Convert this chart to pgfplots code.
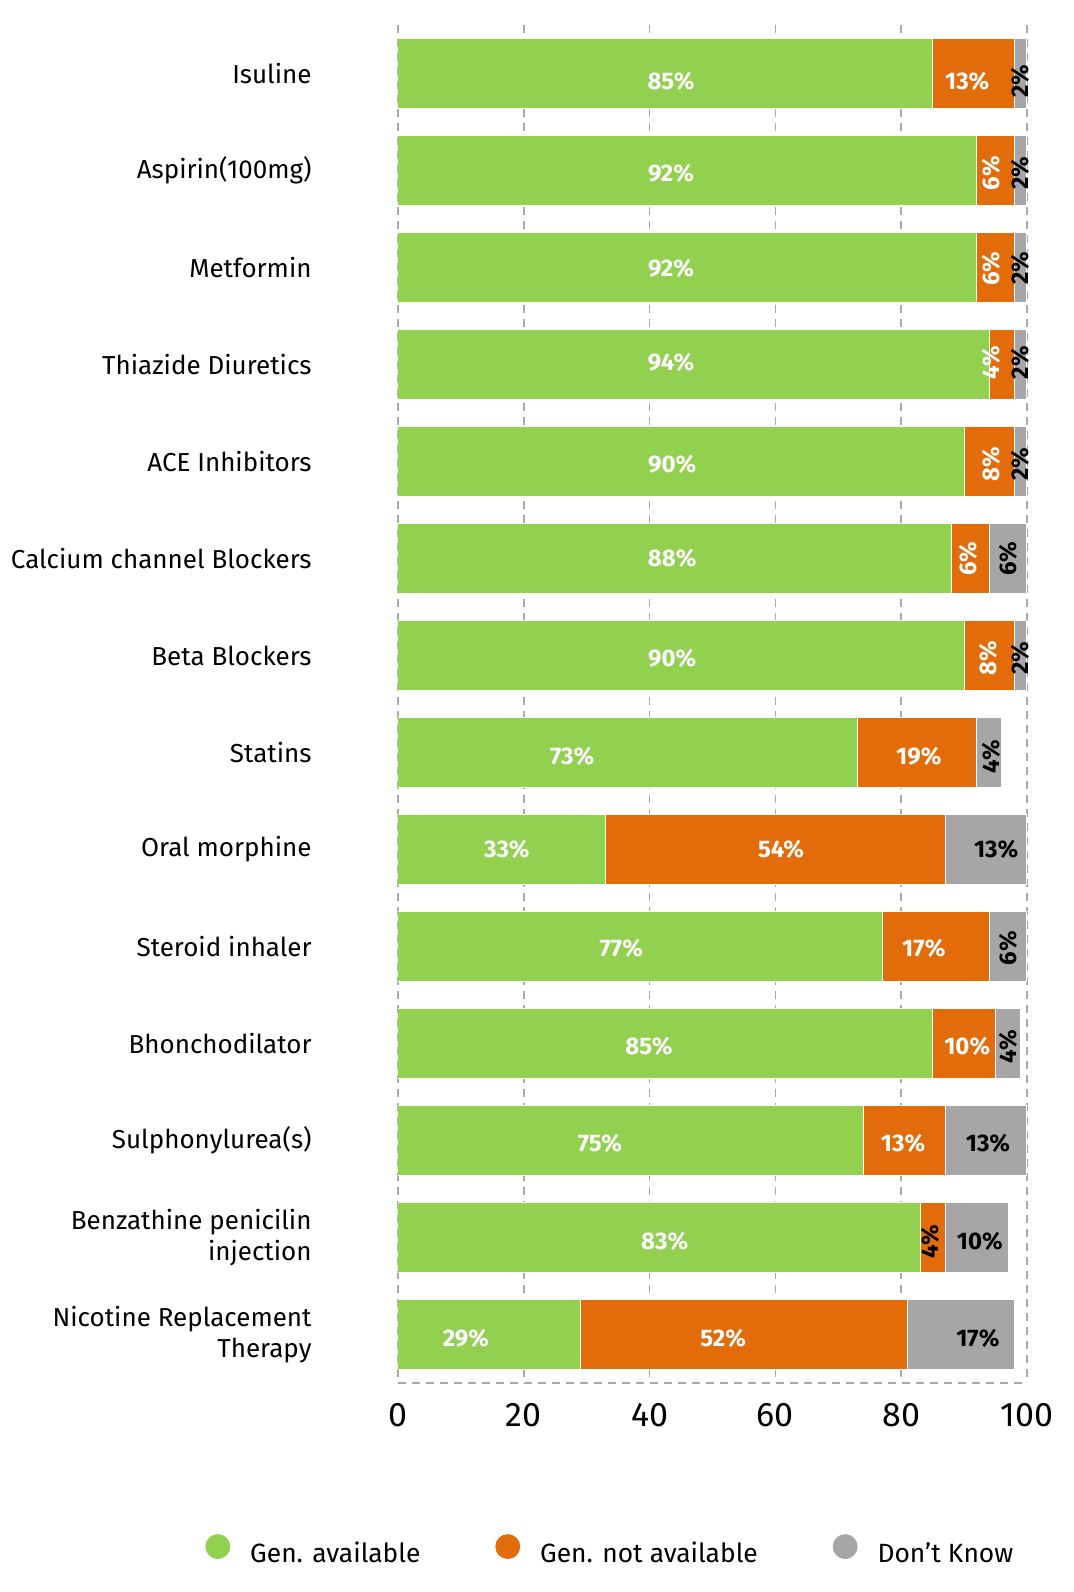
\documentclass[border=0pt]{standalone}
\usepackage{fontspec}
\setmainfont{Fira Sans}
\usepackage{pgfplots}
\usepackage{pgfplotstable}
\pgfplotsset{compat=1.18}
\definecolor{cgreen}{RGB}{146,208,80}
\definecolor{corange}{RGB}{227,108,10}
\definecolor{cgray}{RGB}{166,166,169}
\definecolor{cgrid}{RGB}{170,170,170}

\pgfplotstableread{
y g o k
0 85 13 2
1 92 6 2
2 92 6 2
3 94 4 2
4 90 8 2
5 88 6 6
6 90 8 2
7 73 19 4
8 33 54 13
9 77 17 6
10 85 10 4
11 74 13 13
12 83 4 10
13 29 52 17
}\bars

% white, horizontal labels
\pgfplotstableread{
x y v
43.4 0.08 85
90.5 0.08 13
43.4 1.03 92
43.4 2.01 92
43.4 2.98 94
43.6 4.03 90
43.6 5.00 88
43.6 6.03 90
27.7 7.04 73
82.8 7.04 19
17.3 8.00 33
60.9 8.00 54
35.5 9.02 77
83.6 9.02 17
39.9 10.03 85
90.5 10.03 10
32.1 11.03 75
80.3 11.03 13
42.4 12.04 83
10.8 13.04 29
51.7 13.04 52
}\labWH

% white, rotated labels
\pgfplotstableread{
x y v
94.3 1.03 6
94.3 2.01 6
94.3 2.98 4
94.3 4.03 8
90.6 5.00 6
93.8 6.03 8
}\labWR

% black, horizontal labels
\pgfplotstableread{
x y v
95.1 8.00 13
93.8 11.03 13
92.5 12.04 10
92.2 13.04 17
}\labBH

% black, rotated labels
\pgfplotstableread{
x y v
99.0 0.08 2
99.0 1.03 2
99.0 2.01 2
99.0 2.98 2
99.0 4.03 2
97.0 5.00 6
99.0 6.03 2
94.4 7.04 4
97.0 9.02 6
97.0 10.03 4
84.7 12.04 4
}\labBR

\pgfplotsset{
  barlab/.style={draw=none, mark=none, forget plot,
    nodes near coords={\pgfplotspointmeta\%},
    point meta=explicit symbolic,
    nodes near coords style={anchor=center, inner sep=0pt, font=\bfseries\fontsize{12}{12}\selectfont, #1}},
}

\begin{document}
\begin{tikzpicture}
\begin{axis}[
  name=ax,
  scale only axis,
  width=314.5pt, height=679pt,
  xbar stacked,
  bar width=0.72,
  xmin=0, xmax=100,
  ymin=-0.5, ymax=13.5,
  y dir=reverse,
  xtick={0,20,...,100},
  ytick={0,...,13},
  yticklabels={Isuline, Aspirin(100mg), Metformin, Thiazide Diuretics, ACE Inhibitors, Calcium channel Blockers, Beta Blockers, Statins, Oral morphine, Steroid inhaler, Bhonchodilator, Sulphonylurea(s), {Benzathine penicilin\\injection}, {Nicotine Replacement\\Therapy}},
  xmajorgrids,
  major grid style={cgrid, line width=0.75pt, dash pattern=on 4pt off 3pt},
  axis line style={draw=none},
  major tick length=0pt,
  extra y ticks={13.5},
  extra y tick labels={},
  extra y tick style={grid=major},
  /pgf/number format/assume math mode=true,
  xticklabel style={font=\fontsize{17}{20}\selectfont, inner sep=0pt, yshift=-10pt},
  yticklabel style={font=\fontsize{13}{15.5}\selectfont, align=right, inner sep=0pt, xshift=-43pt},
]
\addplot[fill=cgreen, draw=white, line width=0.5pt] table[x=g, y=y]{\bars};
\addplot[fill=corange, draw=white, line width=0.5pt] table[x=o, y=y]{\bars};
\addplot[fill=cgray, draw=white, line width=0.5pt] table[x=k, y=y]{\bars};
\end{axis}
\begin{axis}[
  at={(ax.south west)}, anchor=south west,
  scale only axis,
  width=314.5pt, height=679pt,
  xmin=0, xmax=100,
  ymin=-0.5, ymax=13.5,
  y dir=reverse,
  hide axis, clip=false,
  legend columns=3,
  legend style={at={(-0.3068,-0.1245)}, anchor=west, draw=none, inner sep=0pt,
    font=\fontsize{13.2}{15}\selectfont,
    /tikz/every odd column/.style={column sep=8pt},
    /tikz/every even column/.style={column sep=35.5pt}},
]
\addplot[barlab={text=white}] table[x=x, y=y, meta=v]{\labWH};
\addplot[barlab={text=white, rotate=90}] table[x=x, y=y, meta=v]{\labWR};
\addplot[barlab={text=black}] table[x=x, y=y, meta=v]{\labBH};
\addplot[barlab={text=black, rotate=90}] table[x=x, y=y, meta=v]{\labBR};
\addlegendimage{legend image code/.code={\fill[cgreen] (6pt,3.8pt) circle (6pt);}}
\addlegendentry{Gen. available}
\addlegendimage{legend image code/.code={\fill[corange] (6pt,3.8pt) circle (6pt);}}
\addlegendentry{Gen. not available}
\addlegendimage{legend image code/.code={\fill[cgray] (6pt,3.8pt) circle (6pt);}}
\addlegendentry{Don't Know}
\end{axis}
\pgfresetboundingbox
\path (ax.south west) ++(-199pt,-104.5pt) rectangle ++(537pt,796pt);
\end{tikzpicture}
\end{document}
